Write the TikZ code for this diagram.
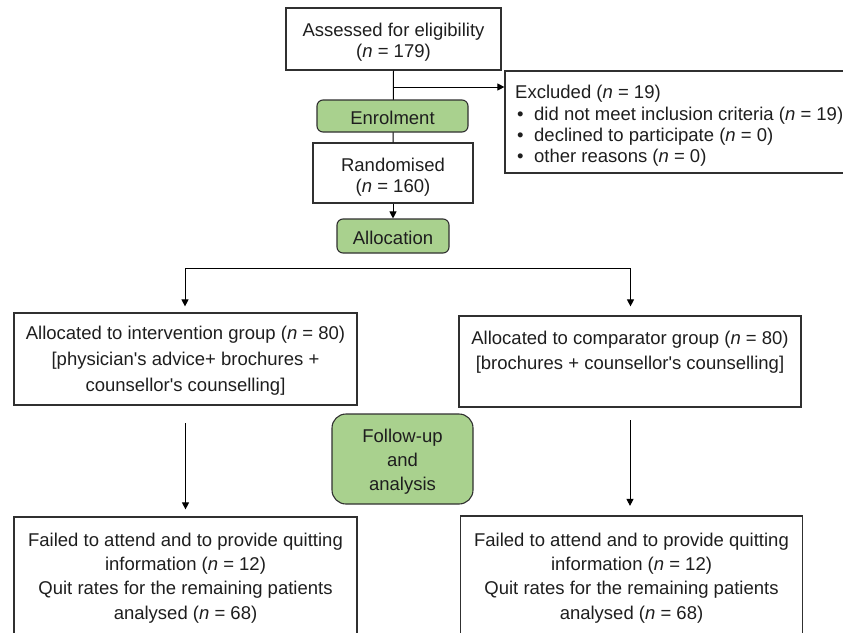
\documentclass[tikz,border=0pt]{standalone}
\usepackage{fontspec}
\setmainfont{Liberation Sans}
\usetikzlibrary{arrows.meta}
\definecolor{boxgreen}{HTML}{A9D18E}
\definecolor{edge}{HTML}{303030}
\definecolor{ink}{HTML}{1E1E1E}
\newcommand{\apos}{\textquotesingle}
\begin{document}
\begin{tikzpicture}[x=1pt,y=-1pt,
  every node/.style={font=\fontsize{18.5}{22}\selectfont, text=ink, inner sep=0pt},
  box/.style={draw=edge, line width=1.2pt, rectangle},
  phase/.style={draw=edge, line width=1.1pt, fill=boxgreen, rounded corners=6pt},
  label1/.style={text height=17pt, text depth=0pt},
  conn/.style={line width=1pt, black},
  arr/.style={conn, -{Triangle[length=7pt,width=7pt]}},
]
\useasboundingbox (0,0) rectangle (843,632);

% top column
\node[box, minimum width=215pt, minimum height=62pt] (assess) at (393.5,39) {};
\node[align=center, font=\fontsize{18.5}{21}\selectfont] (assesstext) at (393.5,41.8)
      {Assessed for eligibility\\(\textit{n} = 179)};
\node[box, minimum width=160pt, minimum height=60pt] (rand) at (393,173) {};
\node[align=center, font=\fontsize{18.5}{20.5}\selectfont] (randtext) at (393,177)
      {Randomised\\(\textit{n} = 160)};
\draw[conn] (assess.south) -- (rand.north);
\node[phase, label1, minimum width=151pt, minimum height=32pt] (enrol) at (392.5,116) {Enrolment};
\node[phase, label1, minimum width=112pt, minimum height=34pt] (alloc) at (393,236) {Allocation};
\draw[arr] (rand.south) -- (alloc.north);

% excluded
\node[box, minimum width=355pt, minimum height=102pt] (exclbox) at (682.5,122) {};
\node[anchor=west, align=left, font=\fontsize{18.5}{21.4}\selectfont] (excltext) at (515,126)
  {Excluded (\textit{n} = 19)\\
   \makebox[19pt][l]{\hspace{2pt}\textbullet}did not meet inclusion criteria (\textit{n} = 19)\\
   \makebox[19pt][l]{\hspace{2pt}\textbullet}declined to participate (\textit{n} = 0)\\
   \makebox[19pt][l]{\hspace{2pt}\textbullet}other reasons (\textit{n} = 0)};
\coordinate (br) at (393.5,87);
\draw[arr] (br) -- (br -| exclbox.west);

% allocation groups
\node[box, minimum width=343pt, minimum height=92pt] (interv) at (185.5,359) {};
\node[align=center, font=\fontsize{18.5}{26}\selectfont] (intervtext) at (185.5,360.5)
  {Allocated to intervention group (\textit{n} = 80)\\
   {[}physician\apos s advice+ brochures +\\
   counsellor\apos s counselling{]}};
\node[box, minimum width=342pt, minimum height=91pt] (comp) at (630,361.5) {};
\node[align=center, font=\fontsize{18.5}{25}\selectfont] (comptext) at (630,352.5)
  {Allocated to comparator group (\textit{n} = 80)\\
   {[}brochures + counsellor\apos s counselling{]}};

\coordinate (jl) at (185,268);
\coordinate (jr) at (630.5,268);
\draw[conn] (jl) -- (jr);
\draw[arr, shorten >=6pt] (jl) -- (jl |- interv.north);
\draw[arr, shorten >=9pt] (jr) -- (jr |- comp.north);

% follow-up
\node[phase, rounded corners=14pt, minimum width=141pt, minimum height=90pt] (follow) at (402.5,459) {};
\node[align=center, font=\fontsize{18.5}{24}\selectfont] (followtext) at (402.5,462)
  {Follow-up\\and\\analysis};

% bottom boxes
\node[box, minimum width=343pt, minimum height=130pt] (fl) at (185.5,582) {};
\node[align=center, font=\fontsize{18.5}{24.3}\selectfont] (fltext) at (185.5,578)
  {Failed to attend and to provide quitting\\
   information (\textit{n} = 12)\\
   Quit rates for the remaining patients\\
   analysed (\textit{n} = 68)};
\node[box, minimum width=342pt, minimum height=131pt] (fr) at (631.5,581.5) {};
\node[align=center, font=\fontsize{18.5}{24.3}\selectfont] (frtext) at (631.5,578)
  {Failed to attend and to provide quitting\\
   information (\textit{n} = 12)\\
   Quit rates for the remaining patients\\
   analysed (\textit{n} = 68)};

\draw[arr, shorten <=17.5pt, shorten >=7pt] (interv.south) -- (fl.north -| interv.south);
\draw[arr, shorten <=12.5pt, shorten >=9.5pt] (comp.south) -- (fr.north -| comp.south);
\end{tikzpicture}
\end{document}
